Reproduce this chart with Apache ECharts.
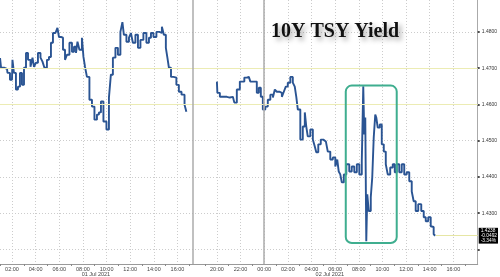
<!DOCTYPE html>
<html><head><meta charset="utf-8">
<script src="https://cdn.jsdelivr.net/npm/echarts@6/dist/echarts.min.js"></script>
<style>html,body{margin:0;padding:0;background:#fff}#c{width:500px;height:277px}</style>
</head><body><div id="c"></div>
<script>
// Session 1 (01 Jul): hours since 01 Jul 00:00
const times1 = [0.99,1.16,1.58,1.66,2.00,2.08,2.25,2.42,2.59,2.76,2.93,3.10,3.27,3.44,3.69,3.78,3.94,4.11,4.28,4.54,4.62,4.87,5.04,5.21,5.38,5.55,5.80,5.89,6.06,6.23,6.40,6.57,6.73,6.99,7.16,7.33,7.50,7.58,7.83,8.00,8.09,8.26,8.42,8.68,8.85,9.10,9.27,9.44,9.61,9.86,10.12,10.28,10.45,10.62,10.88,11.04,11.30,11.38,11.55,11.81,11.98,12.14,12.31,12.57,12.74,12.99,13.24,13.50,13.67,13.84,14.09,14.34,14.60,14.76,14.93,15.10,15.19,15.36,15.54,15.78,16.03,16.20,16.48,16.71,16.79];
const yield1 = [1.4728,1.4701,1.4698,1.4687,1.4668,1.4723,1.4687,1.4641,1.4649,1.4687,1.4654,1.4701,1.4742,1.4723,1.4704,1.4729,1.4704,1.4715,1.4742,1.4729,1.4718,1.4701,1.4723,1.4731,1.4770,1.4797,1.4797,1.4811,1.4786,1.4784,1.4751,1.4723,1.4737,1.4770,1.4745,1.4759,1.4742,1.4773,1.4751,1.4784,1.4731,1.4704,1.4676,1.4613,1.4594,1.4558,1.4572,1.4578,1.4608,1.4553,1.4531,1.4619,1.4682,1.4729,1.4756,1.4737,1.4800,1.4827,1.4792,1.4773,1.4784,1.4797,1.4770,1.4792,1.4756,1.4778,1.4797,1.4770,1.4784,1.4797,1.4786,1.4800,1.4797,1.4814,1.4792,1.4756,1.4729,1.4701,1.4676,1.4674,1.4654,1.4635,1.4627,1.4599,1.4580];
// Session 2 (01 Jul evening - 02 Jul): hours since 01 Jul 00:00
const times2 = [20.00,20.08,20.42,20.84,21.09,21.35,21.60,21.77,22.11,22.53,22.70,22.96,23.29,23.46,23.63,23.80,23.97,24.22,24.39,24.65,24.82,24.98,25.15,25.41,25.58,25.74,25.91,26.08,26.34,26.50,26.67,26.76,26.93,27.18,27.35,27.52,27.60,27.77,28.03,28.20,28.36,28.45,28.70,28.87,29.13,29.30,29.46,29.72,29.89,30.14,30.22,30.39,30.48,30.65,30.82,31.07,31.32,31.49,31.75,31.92,32.17,32.34,32.42,32.51,32.59,32.68,32.76,32.93,33.10,33.18,33.35,33.44,33.52,33.69,33.86,34.03,34.20,34.37,34.53,34.79,34.96,35.13,35.30,35.55,35.72,35.97,36.14,36.40,36.56,36.73,36.90,37.16,37.41,37.58,37.75,38.00,38.17,38.25,38.42,38.51];
const yield2 = [1.4663,1.4632,1.4621,1.4621,1.4619,1.4621,1.4605,1.4641,1.4663,1.4674,1.4676,1.4663,1.4663,1.4632,1.4646,1.4621,1.4586,1.4594,1.4613,1.4627,1.4619,1.4641,1.4635,1.4632,1.4621,1.4635,1.4649,1.4660,1.4676,1.4660,1.4649,1.4621,1.4586,1.4503,1.4539,1.4578,1.4539,1.4512,1.4531,1.4503,1.4484,1.4468,1.4490,1.4503,1.4498,1.4503,1.4470,1.4448,1.4454,1.4429,1.4448,1.4415,1.4407,1.4385,1.4407,1.4435,1.4415,1.4429,1.4413,1.4435,1.4407,1.4443,1.4650,1.4517,1.4564,1.4223,1.4352,1.4306,1.4344,1.4399,1.4509,1.4572,1.4564,1.4536,1.4545,1.4490,1.4470,1.4435,1.4407,1.4426,1.4435,1.4413,1.4435,1.4413,1.4435,1.4407,1.4413,1.4388,1.4360,1.4333,1.4306,1.4325,1.4306,1.4289,1.4278,1.4289,1.4264,1.4262,1.4242,1.4238];

const tickHours = [2,4,6,8,10,12,14,16,20,22,24,26,28,30,32,34,36,38,40];
const tickLabels = ['02:00','04:00','06:00','08:00','10:00','12:00','14:00','16:00','20:00','22:00','00:00','02:00','04:00','06:00','08:00','10:00','12:00','14:00','16:00'];
const minorTickHours = [1,3,5,7,9,11,13,15,17,19,21,23,25,27,29,31,33,35,37,39,41];
const dateHours = [9.1, 29.55];
const dateLabels = ['01 Jul 2021', '02 Jul 2021'];
const yTickValues = [1.42,1.43,1.44,1.45,1.46,1.47,1.48];
const yLabelValues = [1.43,1.44,1.45,1.46,1.47,1.48];
const refLevels = [1.4730, 1.4580];
const dividerHours = [17.3, 24];
const lastInfo = ['1.4238', '-0.0492', '-3.34%'];
const boxHours = [30.9, 35.21];
const boxYields = [1.4218, 1.4652];
const titleText = '10Y TSY Yield';
const xRange = [0.986, 42.06];
const yRange = [1.416, 1.4888];

const GAP_START = 17.3, GAP = 0.667;
const toPlot = t => t <= GAP_START ? t : t - GAP;

const d1 = times1.map((t, i) => [toPlot(t), yield1[i]]);
const d2 = times2.map((t, i) => [toPlot(t), yield2[i]]);
const plotTicks = tickHours.map(toPlot);
const plotMinor = minorTickHours.map(toPlot);
const plotDates = dateHours.map(toPlot);
const xMin = toPlot(xRange[0]), xMax = toPlot(xRange[1]);
const lastT = toPlot(times2[times2.length - 1]);
const lastV = yield2[yield2.length - 1];

const labelFont = {fontFamily: 'Liberation Sans', color: '#444'};
const lineBase = {type: 'line', step: 'middle', showSymbol: false, symbol: 'none',
  lineStyle: {color: '#2a5493', width: 1.9}, animation: false};

const chart = echarts.init(document.getElementById('c'), null, {renderer: 'canvas'});
chart.setOption({
  animation: false,
  backgroundColor: '#fff',
  title: {
    text: titleText, left: 266, top: 17,
    textStyle: {fontFamily: 'Liberation Serif', fontWeight: 'bold', fontSize: 20, color: '#111',
      textShadowColor: 'rgba(0,0,0,0.35)', textShadowBlur: 5, textShadowOffsetX: 3, textShadowOffsetY: 3}
  },
  grid: {left: 0, right: 22, top: 0, bottom: 12, containLabel: false},
  xAxis: [
    {type: 'value', min: xMin, max: xMax, position: 'bottom',
      axisLine: {show: true, lineStyle: {color: '#999', width: 1}},
      axisTick: {show: false, customValues: plotTicks},
      axisLabel: {customValues: plotTicks, fontSize: 5.5, margin: 2, ...labelFont,
        formatter: v => { const i = plotTicks.findIndex(p => Math.abs(p - v) < 1e-6); return i >= 0 ? tickLabels[i] : ''; }},
      splitLine: {show: true, lineStyle: {color: '#cccccc', type: [1, 2], width: 1}}},
    {type: 'value', min: xMin, max: xMax, position: 'bottom',
      axisLine: {show: false}, axisLabel: {show: false}, splitLine: {show: false},
      axisTick: {show: true, customValues: plotMinor, length: 2, lineStyle: {color: '#888'}}},
    {type: 'value', min: xMin, max: xMax, position: 'bottom', offset: 6,
      axisLine: {show: false}, axisTick: {show: false, customValues: plotDates}, splitLine: {show: false},
      axisLabel: {customValues: plotDates, fontSize: 5.5, margin: 1, ...labelFont,
        formatter: v => { const i = plotDates.findIndex(p => Math.abs(p - v) < 1e-6); return i >= 0 ? dateLabels[i] : ''; }}}
  ],
  yAxis: {type: 'value', position: 'right', min: yRange[0], max: yRange[1],
    axisLine: {show: true, lineStyle: {color: '#aaa'}},
    axisTick: {show: true, customValues: yTickValues, length: 2, lineStyle: {color: '#111', width: 1.5}},
    axisLabel: {customValues: yLabelValues, fontSize: 5, margin: 4, ...labelFont, color: '#333',
      formatter: v => v.toFixed(4)},
    splitLine: {show: true, lineStyle: {color: '#cccccc', type: [1, 2], width: 1}}},
  series: [
    {...lineBase, name: 'S1', data: d1, z: 3,
      markLine: {silent: true, symbol: 'none', animation: false, label: {show: false},
        data: [
          ...refLevels.map(v => ({yAxis: v, lineStyle: {color: '#ececb4', width: 1, type: 'solid'}})),
          ...dividerHours.map(t => ({xAxis: toPlot(t), lineStyle: {color: '#ababab', width: 1.5, type: 'solid'}}))
        ]}},
    {...lineBase, name: 'S2', data: d2, z: 3,
      markLine: {silent: true, symbol: 'none', animation: false,
        data: [[
          {coord: [lastT, lastV], lineStyle: {color: '#e6e6a4', width: 1.2, type: 'solid'}},
          {coord: [xMax, lastV]}
        ]],
        label: {show: true, position: 'end', distance: 1, formatter: () => lastInfo.join('\n'),
          backgroundColor: '#000', color: '#fff', fontSize: 4.8, lineHeight: 4.6,
          fontFamily: 'Liberation Sans', padding: [1, 1, 1, 2], align: 'left'}}}
  ]
});

const p0 = chart.convertToPixel({gridIndex: 0}, [toPlot(boxHours[0]), boxYields[1]]);
const p1 = chart.convertToPixel({gridIndex: 0}, [toPlot(boxHours[1]), boxYields[0]]);
chart.setOption({graphic: [{type: 'rect', z: 10,
  shape: {x: p0[0], y: p0[1], width: p1[0] - p0[0], height: p1[1] - p0[1], r: 6},
  style: {fill: 'none', stroke: '#3fae8f', lineWidth: 2}}]});
</script></body></html>
